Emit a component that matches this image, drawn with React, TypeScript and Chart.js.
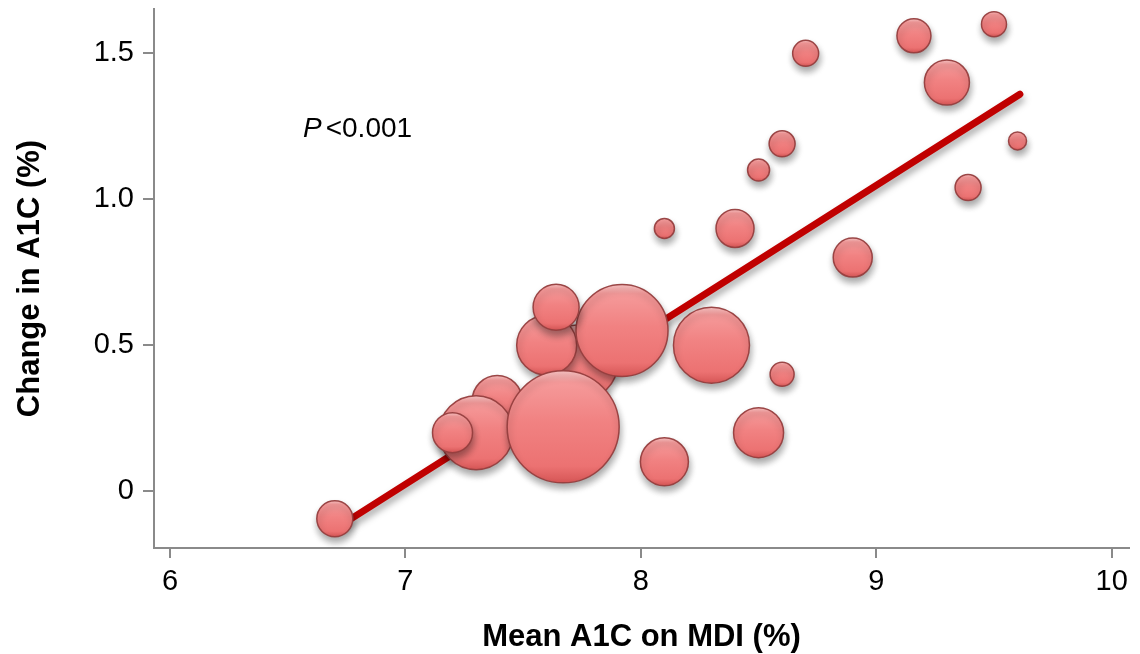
import React, { useEffect, useRef } from 'react';
import { Chart, registerables } from 'chart.js';

Chart.register(...registerables);

// Bubble data (drawing order: back to front)
const meanA1C = [7.74, 7.6, 7.92, 7.64, 7.39, 7.3, 7.67, 7.2, 6.7, 8.1, 8.3, 8.1, 8.4, 8.5, 8.6, 8.7, 8.5, 8.6, 8.9, 9.16, 9.3, 9.39, 9.5, 9.6];
const changeA1C = [0.44, 0.5, 0.55, 0.63, 0.31, 0.2, 0.22, 0.2, -0.095, 0.1, 0.5, 0.9, 0.9, 1.1, 1.19, 1.5, 0.2, 0.4, 0.8, 1.56, 1.4, 1.04, 1.6, 1.2];
const bubbleRadius = [38, 30, 46, 23, 25, 37, 56, 20, 18, 24, 38, 10, 19, 11, 13, 13, 25, 12, 19.5, 17, 22.5, 13, 12.5, 9];

// Regression line
const fitX = [6.74, 9.61];
const fitY = [-0.11, 1.36];

// Axes
const xTicks = [6, 7, 8, 9, 10];
const xTickLabels = ['6', '7', '8', '9', '10'];
const yTicks = [0, 0.5, 1.0, 1.5];
const yTickLabels = ['0', '0.5', '1.0', '1.5'];
const xTitle = 'Mean A1C on MDI (%)';
const yTitle = 'Change in A1C (%)';
const pItalic = 'P';
const pRest = '<0.001';

const FONT = '"Liberation Sans", Arial, Helvetica, sans-serif';

export default function App() {
  const ref = useRef<HTMLCanvasElement | null>(null);

  useEffect(() => {
    const canvas = ref.current;
    if (!canvas) return;

    const bubbleData = meanA1C.map((x, i) => ({ x, y: changeA1C[i], r: bubbleRadius[i] }));
    const lineData = fitX.map((x, i) => ({ x, y: fitY[i] }));

    const shadowPlugin = {
      id: 'shadow',
      beforeDatasetDraw(chart: any) {
        const c = chart.ctx;
        c.save();
        c.shadowColor = 'rgba(0,0,0,0.35)';
        c.shadowBlur = 7;
        c.shadowOffsetX = 1;
        c.shadowOffsetY = 5;
      },
      afterDatasetDraw(chart: any) {
        chart.ctx.restore();
      },
    };

    const textPlugin = {
      id: 'ptext',
      afterDraw(chart: any) {
        const c = chart.ctx;
        const xs = chart.scales.x;
        const ys = chart.scales.y;
        const px = xs.getPixelForValue(6.565);
        const py = ys.getPixelForValue(1.214);
        c.save();
        c.fillStyle = '#000';
        c.textBaseline = 'alphabetic';
        c.textAlign = 'left';
        c.font = `italic 28px ${FONT}`;
        c.fillText(pItalic, px, py);
        const w = c.measureText(pItalic).width;
        c.font = `28px ${FONT}`;
        c.fillText(pRest, px + w + 4, py);
        c.restore();
      },
    };

    const bubbleFill = (ctx: any) => {
      const chart = ctx.chart;
      const raw = ctx.raw;
      if (ctx.type !== 'data' || !raw || !chart.scales || !chart.scales.y) return '#EF7B7B';
      const cy = chart.scales.y.getPixelForValue(raw.y);
      const r = raw.r;
      if (!Number.isFinite(cy) || !Number.isFinite(r)) return '#EF7B7B';
      const g = chart.ctx.createLinearGradient(0, cy - r, 0, cy + r);
      g.addColorStop(0, '#FAC4C4');
      g.addColorStop(0.1, '#F59A9A');
      g.addColorStop(0.45, '#F18282');
      g.addColorStop(0.85, '#EC7272');
      g.addColorStop(1, '#D65656');
      return g;
    };

    const chart = new Chart(canvas, {
      type: 'bubble',
      data: {
        datasets: [
          {
            type: 'bubble',
            data: bubbleData,
            backgroundColor: bubbleFill,
            borderColor: 'rgba(150,62,62,0.95)',
            borderWidth: 1.5,
            order: 1,
          } as any,
          {
            type: 'line',
            data: lineData,
            borderColor: '#C00000',
            borderWidth: 7,
            borderCapStyle: 'round',
            pointRadius: 0,
            fill: false,
            order: 2,
          } as any,
        ],
      },
      options: {
        animation: false,
        responsive: false,
        events: [],
        layout: { autoPadding: false, padding: { top: 9, right: 11, left: 0, bottom: 0 } },
        plugins: { legend: { display: false }, tooltip: { enabled: false } },
        scales: {
          x: {
            type: 'linear',
            min: 5.932,
            max: 10.0735,
            afterBuildTicks: (axis: any) => {
              axis.ticks = xTicks.map((v) => ({ value: v }));
            },
            afterFit: (axis: any) => {
              axis.height = 106;
              axis.paddingLeft = 0;
              axis.paddingRight = 0;
            },
            ticks: {
              callback: (v: any) => {
                const i = xTicks.indexOf(Number(v));
                return i >= 0 ? xTickLabels[i] : '';
              },
              color: '#000',
              font: { family: FONT, size: 29 },
              padding: 7,
              maxRotation: 0,
              autoSkip: false,
            },
            grid: {
              display: true,
              drawOnChartArea: false,
              drawTicks: true,
              tickLength: 10,
              color: '#8a8a8a',
              lineWidth: 2,
            },
            border: { display: true, color: '#8a8a8a', width: 2 },
            title: {
              display: true,
              text: xTitle,
              color: '#000',
              font: { family: FONT, size: 31, weight: 'bold', lineHeight: 1 },
              padding: { top: 0, bottom: 1 },
            },
          },
          y: {
            type: 'linear',
            min: -0.1953,
            max: 1.652,
            afterBuildTicks: (axis: any) => {
              axis.ticks = yTicks.map((v) => ({ value: v }));
            },
            afterFit: (axis: any) => {
              axis.width = 154;
              axis.paddingTop = 0;
              axis.paddingBottom = 0;
            },
            ticks: {
              callback: (v: any) => {
                const i = yTicks.indexOf(Number(v));
                return i >= 0 ? yTickLabels[i] : '';
              },
              color: '#000',
              font: { family: FONT, size: 29 },
              padding: 9,
              autoSkip: false,
            },
            grid: {
              display: true,
              drawOnChartArea: false,
              drawTicks: true,
              tickLength: 11,
              color: '#8a8a8a',
              lineWidth: 2,
            },
            border: { display: true, color: '#8a8a8a', width: 2 },
            title: {
              display: true,
              text: yTitle,
              color: '#000',
              font: { family: FONT, size: 31, weight: 'bold', lineHeight: 1 },
              padding: { top: 15, bottom: 0 },
            },
          },
        },
      } as any,
      plugins: [shadowPlugin, textPlugin],
    });

    return () => chart.destroy();
  }, []);

  return (
    <div style={{ position: 'absolute', left: 0, top: 0, width: 1140, height: 654, background: '#fff' }}>
      <canvas ref={ref} width={1140} height={654} />
    </div>
  );
}
